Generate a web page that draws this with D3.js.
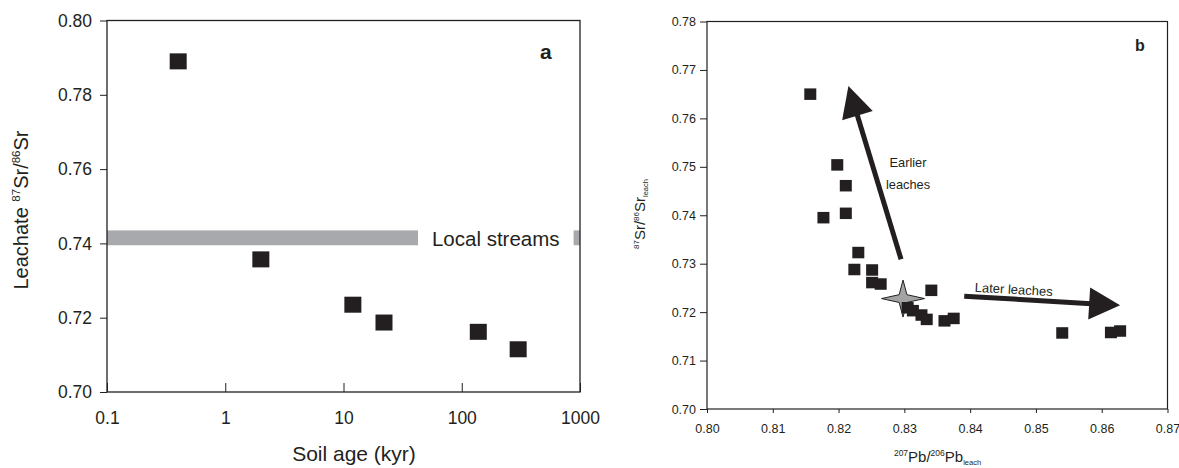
<!DOCTYPE html>
<html>
<head>
<meta charset="utf-8">
<script src="https://cdn.jsdelivr.net/npm/d3@7"></script>
<style>
  body { margin: 0; background: #fff; }
  svg { display: block; font-family: Arial, "Liberation Sans", Helvetica, sans-serif; }
  .axis path.domain { display: none; }
  .axis line { stroke: #231f20; }
  .axis text { fill: #231f20; }
</style>
</head>
<body>
<svg id="plot"></svg>
<script>
var width = 1179;
var height = 468;
var ink = "#231f20";

// panel a: soil age vs leachate Sr
var soilAge = [0.4, 2.0, 12, 22, 138, 300];
var leachSr = [0.789, 0.7357, 0.7235, 0.7187, 0.7162, 0.7115];
var ageTicks = [0.1, 1, 10, 100, 1000];
var srTicksA = [0.70, 0.72, 0.74, 0.76, 0.78, 0.80];
var streamSr = [0.7395, 0.7435];

// panel b: Pb vs Sr of the leaches
var leachPb = [0.8157, 0.8198, 0.8211, 0.8211, 0.8177, 0.8230, 0.8224, 0.8251, 0.8251, 0.8264,
               0.8341, 0.8305, 0.8313, 0.8326, 0.8334, 0.8361, 0.8375, 0.8540, 0.8614, 0.8628];
var leachSrB = [0.7650, 0.7504, 0.7461, 0.7404, 0.7395, 0.7323, 0.7288, 0.7287, 0.7261, 0.7258,
                0.7245, 0.7209, 0.7203, 0.7194, 0.7185, 0.7182, 0.7187, 0.7157, 0.7158, 0.7161];
var starPb = [0.8298];
var starSr = [0.7228];
var pbTicks = [0.80, 0.81, 0.82, 0.83, 0.84, 0.85, 0.86, 0.87];
var srTicksB = [0.70, 0.71, 0.72, 0.73, 0.74, 0.75, 0.76, 0.77, 0.78];
// arrows: [tail, tip]
var earlyArrowPb = [0.8295, 0.8215];
var earlyArrowSr = [0.7309, 0.7667];
var lateArrowPb = [0.8391, 0.8628];
var lateArrowSr = [0.7233, 0.7214];

var svg = d3.select("#plot")
    .attr("width", width)
    .attr("height", height);

/* ---------- panel a ---------- */
var aL = 107, aR = 580, aT = 20.5, aB = 392;
var xA = d3.scaleLog().domain([0.1, 1000]).range([aL, aR]);
var yA = d3.scaleLinear().domain([0.70, 0.80]).range([aB, aT]);
var gA = svg.append("g");

gA.append("rect")
    .attr("x", xA(0.1))
    .attr("y", yA(streamSr[1]))
    .attr("width", xA(1000) - xA(0.1))
    .attr("height", yA(streamSr[0]) - yA(streamSr[1]))
    .attr("fill", "#a7a9ac");

var streamLbl = gA.append("text")
    .attr("x", xA(56))
    .attr("y", yA(0.7415) + 8)
    .attr("font-size", 20.5)
    .attr("fill", ink)
    .text("Local streams");
var bb = streamLbl.node().getBBox();
gA.insert("rect", "text")
    .attr("x", bb.x - 14)
    .attr("y", yA(streamSr[1]) - 1)
    .attr("width", bb.width + 28)
    .attr("height", yA(streamSr[0]) - yA(streamSr[1]) + 2)
    .attr("fill", "#fff");

gA.append("g")
    .attr("class", "axis")
    .attr("transform", "translate(" + aL + ",0)")
    .call(d3.axisLeft(yA).tickValues(srTicksA).tickSize(7).tickPadding(8).tickFormat(d3.format(".2f")))
    .selectAll("text").attr("font-size", 17.5).attr("font-family", null);

gA.append("g")
    .attr("class", "axis")
    .attr("transform", "translate(0," + aB + ")")
    .call(d3.axisBottom(xA).tickValues(ageTicks).tickSizeInner(-9).tickSizeOuter(0).tickPadding(20)
        .tickFormat(function (d) { return String(d); }))
    .selectAll("text").attr("font-size", 17.5).attr("font-family", null);

gA.append("rect")
    .attr("x", aL).attr("y", aT)
    .attr("width", aR - aL).attr("height", aB - aT)
    .attr("fill", "none").attr("stroke", ink).attr("stroke-width", 1.3);

gA.selectAll(".sq")
    .data(soilAge)
    .enter().append("rect")
    .attr("class", "sq")
    .attr("x", function (d) { return xA(d) - 8.5; })
    .attr("y", function (d, i) { return yA(leachSr[i]) - 8; })
    .attr("width", 17).attr("height", 16)
    .attr("fill", ink);

gA.append("text")
    .attr("x", 540).attr("y", 59)
    .attr("font-size", 21).attr("font-weight", "bold").attr("fill", ink)
    .text("a");

gA.append("text")
    .attr("x", 354).attr("y", 461)
    .attr("text-anchor", "middle")
    .attr("font-size", 21).attr("fill", ink)
    .text("Soil age (kyr)");

var yLblA = gA.append("text")
    .attr("transform", "translate(28,210) rotate(-90)")
    .attr("text-anchor", "middle")
    .attr("font-size", 20).attr("fill", ink);
yLblA.append("tspan").text("Leachate ");
yLblA.append("tspan").attr("font-size", 11.5).attr("dy", -8).text("87");
yLblA.append("tspan").attr("dy", 8).text("Sr/");
yLblA.append("tspan").attr("font-size", 11.5).attr("dy", -8).text("86");
yLblA.append("tspan").attr("dy", 8).text("Sr");

/* ---------- panel b ---------- */
var bL = 707, bR = 1167.5, bT = 21.5, bB = 409;
var xB = d3.scaleLinear().domain([0.80, 0.87]).range([bL, bR]);
var yB = d3.scaleLinear().domain([0.70, 0.78]).range([bB, bT]);
var gB = svg.append("g");

gB.append("g")
    .attr("class", "axis")
    .attr("transform", "translate(" + bL + ",0)")
    .call(d3.axisLeft(yB).tickValues(srTicksB).tickSize(7).tickPadding(4).tickFormat(d3.format(".2f")))
    .selectAll("text").attr("font-size", 12.5).attr("font-family", null);

gB.append("g")
    .attr("class", "axis")
    .attr("transform", "translate(0," + bB + ")")
    .call(d3.axisBottom(xB).tickValues(pbTicks).tickSize(4).tickPadding(11).tickFormat(d3.format(".2f")))
    .selectAll("text").attr("font-size", 12.5).attr("font-family", null);

gB.append("rect")
    .attr("x", bL).attr("y", bT)
    .attr("width", bR - bL).attr("height", bB - bT)
    .attr("fill", "none").attr("stroke", ink).attr("stroke-width", 1.2);

// four pointed star
function starPoints(cx, cy) {
    var pts = [];
    for (var k = 0; k < 8; k++) {
        var a = k * Math.PI / 4;
        var rx = k % 2 == 0 ? 21.5 : 5.5;
        var ry = k % 2 == 0 ? 18.5 : 5.5;
        pts.push([cx + rx * Math.cos(a), cy - ry * Math.sin(a)]);
    }
    return pts;
}
gB.selectAll(".star")
    .data(starPb)
    .enter().append("path")
    .attr("class", "star")
    .attr("d", function (d, i) { return "M" + starPoints(xB(d), yB(starSr[i])).join("L") + "Z"; })
    .attr("fill", "#a3a3a3")
    .attr("stroke", ink)
    .attr("stroke-width", 1);

gB.selectAll(".sq")
    .data(leachPb)
    .enter().append("rect")
    .attr("class", "sq")
    .attr("x", function (d) { return xB(d) - 6; })
    .attr("y", function (d, i) { return yB(leachSrB[i]) - 5.75; })
    .attr("width", 12).attr("height", 11.5)
    .attr("fill", ink);

function arrow(pb, sr) {
    var x0 = xB(pb[0]), y0 = yB(sr[0]), x1 = xB(pb[1]), y1 = yB(sr[1]);
    var dx = x1 - x0, dy = y1 - y0, len = Math.sqrt(dx * dx + dy * dy);
    var ux = dx / len, uy = dy / len;
    var headL = 31, headW = 16;
    var bx = x1 - ux * headL, by = y1 - uy * headL;
    gB.append("line")
        .attr("x1", x0).attr("y1", y0)
        .attr("x2", bx + ux * 2).attr("y2", by + uy * 2)
        .attr("stroke", ink).attr("stroke-width", 5);
    gB.append("path")
        .attr("d", "M" + x1 + "," + y1 +
            "L" + (bx - uy * headW) + "," + (by + ux * headW) +
            "L" + (bx + uy * headW) + "," + (by - ux * headW) + "Z")
        .attr("fill", ink);
}
arrow(earlyArrowPb, earlyArrowSr);
arrow(lateArrowPb, lateArrowSr);

gB.append("text")
    .attr("x", 908).attr("y", 167)
    .attr("text-anchor", "middle")
    .attr("font-size", 12.8).attr("fill", ink)
    .text("Earlier");
gB.append("text")
    .attr("x", 908).attr("y", 189)
    .attr("text-anchor", "middle")
    .attr("font-size", 12.8).attr("fill", ink)
    .text("leaches");
gB.append("text")
    .attr("transform", "translate(1013.5,294) rotate(3.3)")
    .attr("text-anchor", "middle")
    .attr("font-size", 13).attr("fill", ink)
    .text("Later leaches");

gB.append("text")
    .attr("x", 1135).attr("y", 51)
    .attr("font-size", 16).attr("font-weight", "bold").attr("fill", ink)
    .text("b");

var xLblB = gB.append("text")
    .attr("x", 937.5).attr("y", 462)
    .attr("text-anchor", "middle")
    .attr("font-size", 15).attr("fill", ink);
xLblB.append("tspan").attr("font-size", 8.5).attr("dy", -6).text("207");
xLblB.append("tspan").attr("dy", 6).text("Pb/");
xLblB.append("tspan").attr("font-size", 8.5).attr("dy", -6).text("206");
xLblB.append("tspan").attr("dy", 6).text("Pb");
xLblB.append("tspan").attr("font-size", 7.5).attr("dy", 3).text("leach");

var yLblB = gB.append("text")
    .attr("transform", "translate(645,214) rotate(-90)")
    .attr("text-anchor", "middle")
    .attr("font-size", 15).attr("fill", ink);
yLblB.append("tspan").attr("font-size", 8).attr("dy", -6).text("87");
yLblB.append("tspan").attr("dy", 6).text("Sr/");
yLblB.append("tspan").attr("font-size", 8).attr("dy", -6).text("86");
yLblB.append("tspan").attr("dy", 6).text("Sr");
yLblB.append("tspan").attr("font-size", 7.5).attr("dy", 3).text("leach");
</script>
</body>
</html>
